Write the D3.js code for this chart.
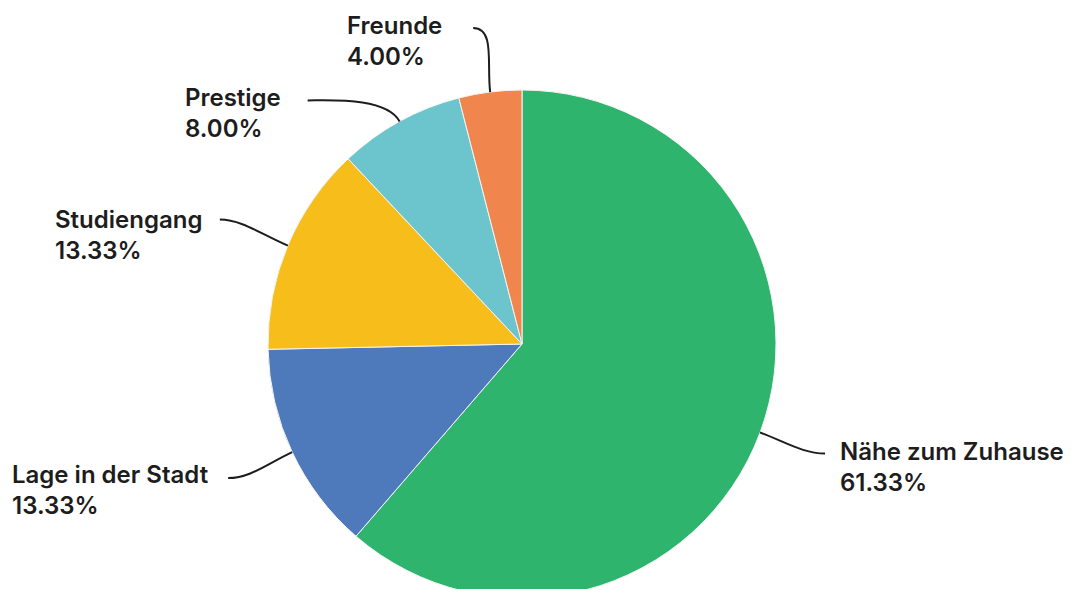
<!DOCTYPE html>
<html>
<head>
<meta charset="utf-8">
<script src="https://cdn.jsdelivr.net/npm/d3@7"></script>
<style>
  body { margin: 0; background: #fff; }
  svg { display: block; }
  .label { font-family: Inter, "Open Sans", sans-serif; font-weight: 600; font-size: 24px; fill: #1d1d1d; }
  .leader { fill: none; stroke: #1d1d1d; stroke-width: 2; }
</style>
</head>
<body>
<svg width="1075" height="589"></svg>
<script>
const categories = ['Nähe zum Zuhause', 'Lage in der Stadt', 'Studiengang', 'Prestige', 'Freunde'];
const shares = [61.33, 13.33, 13.33, 8.00, 4.00];
const colors = ['#2eb46c', '#4e7abb', '#f6bd1b', '#6cc5cc', '#f0864d'];

// label layout: line end offset from slice edge, text start (x, baseline)
const leaderEnd = [[65, 21], [-64, 26], [-68, -26], [-92, -21], [-17, -64]];
const textPos = [[840, 460], [12, 483], [55, 228], [185, 106], [347, 34]];

const svg = d3.select('svg');
const width = +svg.attr('width');
const height = +svg.attr('height');

const cx = 522;
const cy = 344;
const radius = 254;

const data = categories.map((c, i) => ({ name: c, value: shares[i], color: colors[i] }));

const pie = d3.pie().value(d => d.value).sort(null);
const arcs = pie(data);

const arc = d3.arc().innerRadius(0).outerRadius(radius);
const edgeArc = d3.arc().innerRadius(radius).outerRadius(radius);
const elbowArc = d3.arc().innerRadius(radius + 28).outerRadius(radius + 28);

const g = svg.append('g').attr('transform', `translate(${cx}, ${cy})`);

g.selectAll('path.slice')
  .data(arcs)
  .enter().append('path')
    .attr('class', 'slice')
    .attr('d', arc)
    .attr('fill', d => d.data.color)
    .attr('stroke', '#f4f4f4')
    .attr('stroke-width', 1);

const fmt = v => d3.format('.2f')(v) + '%';

arcs.forEach((d, i) => {
  const p0 = edgeArc.centroid(d);
  const c1 = elbowArc.centroid(d);
  const p2 = [p0[0] + leaderEnd[i][0], p0[1] + leaderEnd[i][1]];
  const dir = p2[0] > p0[0] ? -1 : 1;
  const c2 = [p2[0] + dir * 22, p2[1]];

  const path = d3.path();
  path.moveTo(p0[0], p0[1]);
  path.bezierCurveTo(c1[0], c1[1], c2[0], c2[1], p2[0], p2[1]);
  g.append('path')
    .attr('class', 'leader')
    .attr('d', path.toString());

  const t = svg.append('text')
    .attr('class', 'label')
    .attr('x', textPos[i][0])
    .attr('y', textPos[i][1]);
  t.append('tspan').attr('x', textPos[i][0]).text(d.data.name);
  t.append('tspan').attr('x', textPos[i][0]).attr('dy', 31).text(fmt(d.data.value));
});
</script>
</body>
</html>
